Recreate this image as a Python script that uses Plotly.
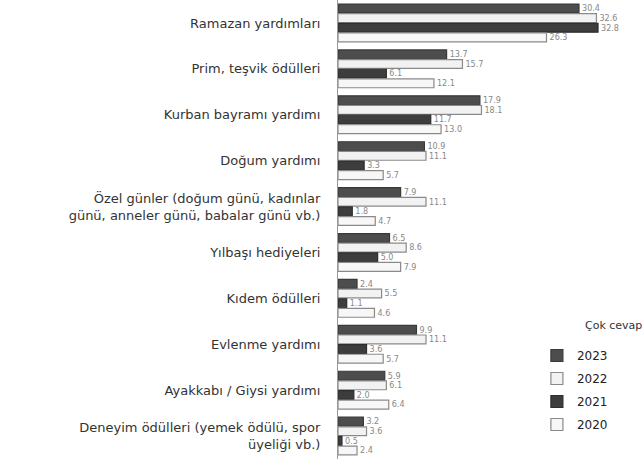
import plotly.graph_objects as go

categories = [
    "Ramazan yardımları",
    "Prim, teşvik ödülleri",
    "Kurban bayramı yardımı",
    "Doğum yardımı",
    "Özel günler (doğum günü, kadınlar<br>günü, anneler günü, babalar günü vb.)",
    "Yılbaşı hediyeleri",
    "Kıdem ödülleri",
    "Evlenme yardımı",
    "Ayakkabı / Giysi yardımı",
    "Deneyim ödülleri (yemek ödülü, spor<br>üyeliği vb.)",
]
v2023 = [30.4, 13.7, 17.9, 10.9, 7.9, 6.5, 2.4, 9.9, 5.9, 3.2]
v2022 = [32.6, 15.7, 18.1, 11.1, 11.1, 8.6, 5.5, 11.1, 6.1, 3.6]
v2021 = [32.8, 6.1, 11.7, 3.3, 1.8, 5.0, 1.1, 3.6, 2.0, 0.5]
v2020 = [26.3, 12.1, 13.0, 5.7, 4.7, 7.9, 4.6, 5.7, 6.4, 2.4]
years = ["2023", "2022", "2021", "2020"]
series = [v2023, v2022, v2021, v2020]
fills = ["#4d4d4d", "#f2f2f2", "#3d3d3d", "#f7f7f7"]
lines = ["#3a3a3a", "#8a8a8a", "#2e2e2e", "#8a8a8a"]

fig = go.Figure()
for name, vals, fc, lc in zip(years, series, fills, lines):
    fig.add_trace(go.Bar(
        y=categories, x=vals, name=name, orientation="h",
        legendgroup=name,
        marker=dict(color=fc, line=dict(color=lc, width=1.2)),
        text=[f"{v:.1f}" for v in vals], textposition="outside",
        textfont=dict(size=10, color="#888", family="DejaVu Sans"),
        cliponaxis=False,
    ))

fig.update_layout(
    width=644, height=470,
    margin=dict(l=338, r=0, t=0, b=11, autoexpand=False),
    paper_bgcolor="white", plot_bgcolor="white",
    barmode="group", bargap=0.16, bargroupgap=0.08,
    showlegend=True,
    legend=dict(x=0.65, y=1 - 341 / 459, xanchor="left", yanchor="top",
                font=dict(size=12, color="#222", family="DejaVu Sans"),
                tracegroupgap=4, itemwidth=30, bgcolor="rgba(0,0,0,0)"),
    font=dict(family="DejaVu Sans", color="#333"),
    annotations=[dict(text="Çok cevap", x=(583 - 338) / 306, y=1 - 325 / 459,
                      xref="paper", yref="paper",
                      showarrow=False, xanchor="left", yanchor="middle",
                      font=dict(size=11, color="#333"))],
)
fig.update_xaxes(range=[0, 38.6], visible=False, automargin=False)
fig.update_yaxes(autorange="reversed", showgrid=False, zeroline=False, automargin=False,
                 showline=True, linecolor="#999", ticks="", ticklabelstandoff=14,
                 tickfont=dict(size=13, color="#333", family="DejaVu Sans"))
fig.write_html("out.html", config={"displayModeBar": False},
               post_script="document.body.style.margin='0';document.body.style.overflow='hidden';")
